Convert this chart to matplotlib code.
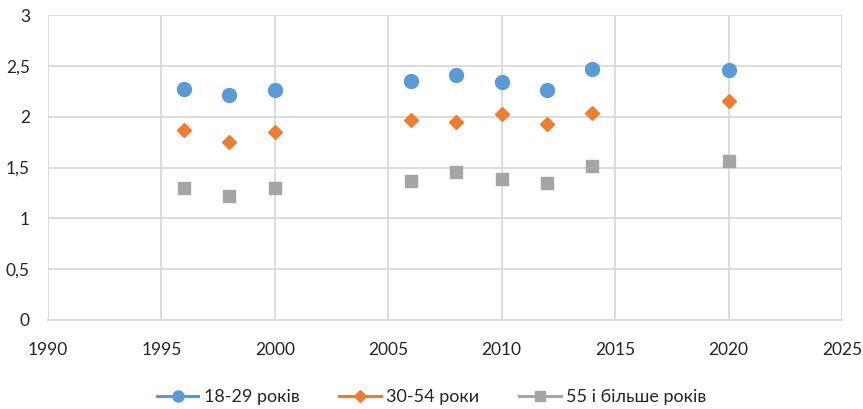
import matplotlib
matplotlib.use("Agg")
import matplotlib.pyplot as plt
from matplotlib.ticker import FuncFormatter

plt.rcParams['font.family'] = ['Lato', 'DejaVu Sans']

years = [1996, 1998, 2000, 2006, 2008, 2010, 2012, 2014, 2020]
age_18_29 = [2.27, 2.21, 2.26, 2.35, 2.41, 2.34, 2.26, 2.47, 2.46]
age_30_54 = [1.87, 1.75, 1.85, 1.97, 1.95, 2.03, 1.93, 2.04, 2.15]
age_55 = [1.30, 1.22, 1.30, 1.37, 1.46, 1.39, 1.35, 1.51, 1.56]
labels = ['18-29 років', '30-54 роки', '55 і більше років']

fig = plt.figure(figsize=(8.63, 4.09), dpi=100)
ax = fig.add_axes([48/863, 1-320/409, (842-48)/863, (320-15)/409])

ax.plot(years, age_18_29, linestyle='none', marker='o', markersize=10, color='#5B9BD5', label=labels[0], zorder=3)
ax.plot(years, age_30_54, linestyle='none', marker='D', markersize=7.5, color='#ED7D31', label=labels[1], zorder=3)
ax.plot(years, age_55, linestyle='none', marker='s', markersize=9, color='#A5A5A5', label=labels[2], zorder=3)

ax.set_xlim(1990, 2025)
ax.set_ylim(0, 3)
ax.set_xticks(range(1990, 2026, 5))
ax.set_yticks([0, 0.5, 1, 1.5, 2, 2.5, 3])
ax.yaxis.set_major_formatter(FuncFormatter(lambda v, p: ('%g' % v).replace('.', ',')))
ax.grid(True, color='#D9D9D9', linewidth=1.3)
ax.set_axisbelow(True)
for s in ['top', 'left', 'right']:
    ax.spines[s].set_visible(False)
ax.spines['bottom'].set_color('#D9D9D9')
ax.spines['bottom'].set_linewidth(1.3)
ax.tick_params(length=0, labelsize=12.5, colors='#262626')
ax.tick_params(axis='x', pad=16)
ax.tick_params(axis='y', pad=13)

handles = [
    plt.Line2D([], [], color='#5B9BD5', marker='o', markersize=8, linewidth=2.2),
    plt.Line2D([], [], color='#ED7D31', marker='D', markersize=6, linewidth=2.2),
    plt.Line2D([], [], color='#A5A5A5', marker='s', markersize=7, linewidth=2.2),
]
fig.legend(handles, labels, loc='center', bbox_to_anchor=(0.5, 1-397/409), ncol=3,
           frameon=False, fontsize=13, handlelength=2.3, columnspacing=2.2, handletextpad=0.3,
           labelcolor='#262626')

fig.savefig('out.png', dpi=100)
